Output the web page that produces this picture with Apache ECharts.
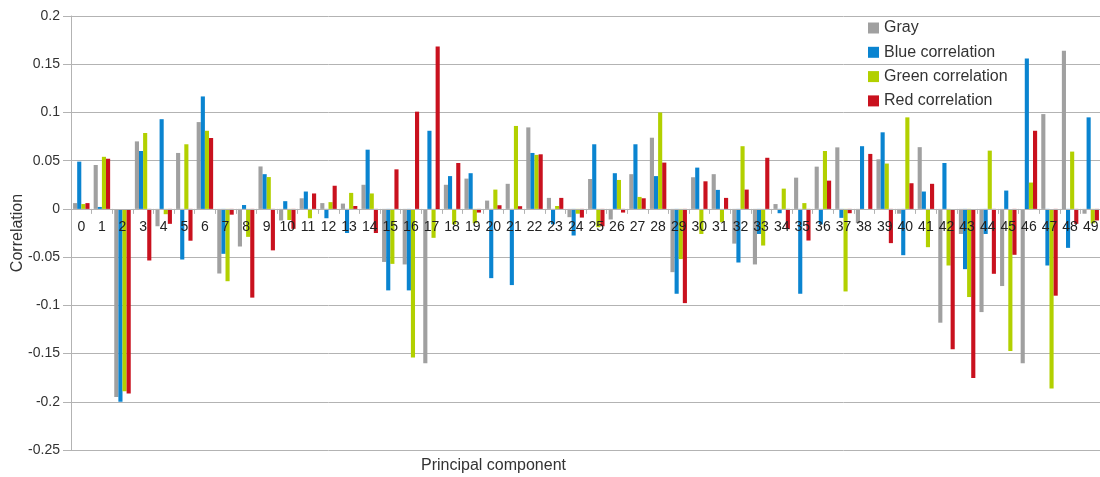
<!DOCTYPE html>
<html>
<head>
<meta charset="utf-8">
<style>
  html, body { margin: 0; padding: 0; background: #fff; }
  #chart { width: 1100px; height: 477px; }
</style>
<script src="https://cdn.jsdelivr.net/npm/echarts@6/dist/echarts.min.js"></script>
</head>
<body>
<div id="chart"></div>
<script>
// Principal components 0..49
const components = ['0','1','2','3','4','5','6','7','8','9',
  '10','11','12','13','14','15','16','17','18','19',
  '20','21','22','23','24','25','26','27','28','29',
  '30','31','32','33','34','35','36','37','38','39',
  '40','41','42','43','44','45','46','47','48','49'];

// Correlation of each component with each channel
const gray = [0.006, 0.0455, -0.195, 0.070, -0.018, 0.058, 0.090, -0.067, -0.039, 0.044,
  -0.012, 0.011, 0.006, 0.0055, 0.025, -0.055, -0.0576, -0.160, 0.025, 0.0314,
  0.0086, 0.026, 0.0845, 0.0114, -0.0086, 0.031, -0.011, 0.036, 0.0738, -0.0656,
  0.0328, 0.036, -0.036, -0.0576, 0.005, 0.0324, 0.0438, 0.0638, -0.0148, 0.0514,
  -0.005, 0.064, -0.118, -0.026, -0.107, -0.080, -0.160, 0.0983, 0.164, -0.005];

const blue = [0.049, 0.002, -0.200, 0.060, 0.093, -0.0525, 0.1166, -0.0466, 0.004, 0.036,
  0.008, 0.018, -0.0097, -0.025, 0.0614, -0.0845, -0.0845, 0.081, 0.034, 0.037,
  -0.0718, -0.079, 0.058, -0.016, -0.0276, 0.067, 0.037, 0.067, 0.034, -0.088,
  0.0428, 0.0197, -0.0556, -0.026, -0.0045, -0.088, -0.016, -0.0093, 0.065, 0.0794,
  -0.048, 0.018, 0.0476, -0.0625, -0.026, 0.019, 0.156, -0.0587, -0.0404, 0.0949];

const green = [0.005, 0.054, -0.189, 0.0787, -0.0055, 0.067, 0.081, -0.075, -0.029, 0.033,
  -0.0115, -0.0097, 0.007, 0.0166, 0.016, -0.057, -0.154, -0.030, -0.016, -0.0148,
  0.020, 0.086, 0.056, 0.003, -0.005, -0.019, 0.030, 0.0124, 0.100, -0.052,
  -0.026, -0.0138, 0.065, -0.038, 0.021, 0.006, 0.060, -0.0856, 0, 0.047,
  0.0949, -0.0397, -0.0587, -0.0914, 0.0604, -0.1473, 0.0273, -0.1863, 0.0594, -0.015];

const red = [0.006, 0.052, -0.1915, -0.0535, -0.0155, -0.033, 0.0735, -0.006, -0.092, -0.043,
  -0.0207, 0.016, 0.024, 0.003, -0.025, 0.041, 0.1008, 0.1684, 0.0476, -0.0038,
  0.0038, 0.0028, 0.0566, 0.0114, -0.009, -0.018, -0.0038, 0.011, 0.048, -0.0977,
  0.0286, 0.0114, 0.020, 0.053, -0.021, -0.0328, 0.0293, -0.0045, 0.057, -0.0355,
  0.0266, 0.026, -0.1456, -0.1753, -0.0673, -0.0476, 0.081, -0.090, -0.0155, -0.012];

const FONT = '"Liberation Sans", Arial, sans-serif';
const axisGray = '#b3b3b3';
const textColor = '#333333';

const Y_MIN = -0.25, Y_MAX = 0.2;
const GRID = { left: 71, right: -1, top: 16, bottom: 27 };
const plotHeight = 477 - GRID.top - GRID.bottom;
// Category axis sits on the zero line: shift it up from the plot bottom
const zeroOffset = -plotHeight * (0 - Y_MIN) / (Y_MAX - Y_MIN);

const seriesDefs = [
  { name: 'Gray', data: gray, color: '#a0a0a0' },
  { name: 'Blue correlation', data: blue, color: '#0a84d0' },
  { name: 'Green correlation', data: green, color: '#b2d000' },
  { name: 'Red correlation', data: red, color: '#c9111e' }
];

const chart = echarts.init(document.getElementById('chart'), null, { renderer: 'canvas' });

chart.setOption({
  animation: false,
  backgroundColor: '#ffffff',
  textStyle: { fontFamily: FONT },
  grid: Object.assign({ containLabel: false, outerBoundsMode: 'none' }, GRID),
  legend: {
    orient: 'vertical',
    left: 863,
    top: 15,
    icon: 'rect',
    itemWidth: 11,
    itemHeight: 11,
    itemGap: 8.3,
    textStyle: { fontFamily: FONT, fontSize: 16, lineHeight: 16, color: textColor },
    data: seriesDefs.map(s => s.name)
  },
  graphic: [{
    type: 'text',
    left: 421,
    top: 458,
    style: { text: 'Principal component', font: '16px ' + FONT, fill: textColor }
  }],
  xAxis: {
    type: 'category',
    data: components,
    position: 'bottom',
    offset: zeroOffset,
    z: 10,
    boundaryGap: true,
    axisLine: { onZero: false, lineStyle: { color: axisGray, width: 1 } },
    axisTick: { show: true, length: 5, lineStyle: { color: axisGray } },
    axisLabel: { interval: 0, margin: 11, fontSize: 14, color: '#222', fontFamily: FONT },
    splitLine: { show: false }
  },
  yAxis: {
    type: 'value',
    min: Y_MIN,
    max: Y_MAX,
    interval: 0.05,
    name: 'Correlation',
    nameLocation: 'middle',
    nameGap: 45,
    nameRotate: 90,
    nameMoveOverlap: false,
    nameTextStyle: { fontSize: 16, color: textColor, fontFamily: FONT },
    axisLine: { show: true, lineStyle: { color: axisGray, width: 1 } },
    axisTick: { show: true, length: 8, lineStyle: { color: axisGray } },
    axisLabel: { margin: 11, fontSize: 14, color: textColor, fontFamily: FONT },
    splitLine: { show: true, lineStyle: { color: axisGray, width: 1 } }
  },
  series: seriesDefs.map(s => ({
    name: s.name,
    type: 'bar',
    data: s.data,
    barGap: '0%',
    barCategoryGap: '20%',
    itemStyle: { color: s.color },
    emphasis: { disabled: true }
  }))
});
</script>
</body>
</html>
